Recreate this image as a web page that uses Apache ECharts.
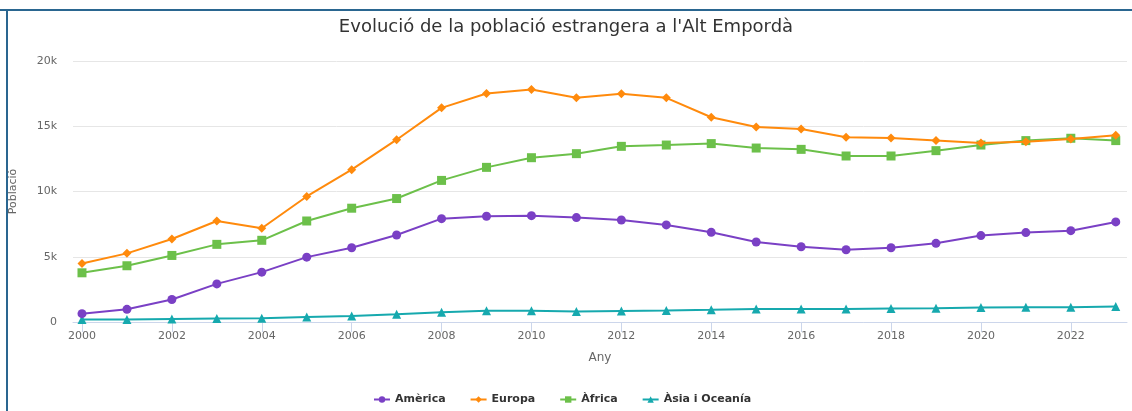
<!DOCTYPE html>
<html>
<head>
<meta charset="utf-8">
<script src="https://cdn.jsdelivr.net/npm/echarts@6/dist/echarts.min.js"></script>
<style>
  html, body { margin: 0; padding: 0; background: #fff; }
  #chart { width: 1132px; height: 411px; }
</style>
</head>
<body>
<div id="chart"></div>
<script>
const years = [2000, 2001, 2002, 2003, 2004, 2005, 2006, 2007, 2008, 2009, 2010, 2011,
               2012, 2013, 2014, 2015, 2016, 2017, 2018, 2019, 2020, 2021, 2022, 2023];
const tickYears = [2000, 2002, 2004, 2006, 2008, 2010, 2012, 2014, 2016, 2018, 2020, 2022];

const america = [640, 970, 1720, 2920, 3820, 4970, 5690, 6670, 7920, 8100, 8150, 8000,
                 7820, 7440, 6870, 6130, 5770, 5540, 5690, 6030, 6620, 6850, 7000, 7670];
const europa = [4490, 5260, 6360, 7740, 7180, 9620, 11670, 13970, 16410, 17510, 17820, 17180,
                17490, 17180, 15690, 14950, 14790, 14150, 14100, 13900, 13720, 13820, 14030, 14310];
const africa = [3770, 4310, 5100, 5950, 6260, 7740, 8720, 9460, 10850, 11850, 12590, 12900,
                13460, 13560, 13670, 13330, 13230, 12720, 12720, 13130, 13560, 13900, 14080, 13900];
const asia = [190, 200, 230, 260, 280, 380, 460, 590, 740, 870, 870, 800,
              850, 880, 930, 990, 990, 990, 1030, 1060, 1110, 1130, 1130, 1180];

const pairs = (vals) => years.map((y, i) => [y, vals[i]]);

const chart = echarts.init(document.getElementById('chart'), null, { renderer: 'canvas' });

const font = 'DejaVu Sans';

chart.setOption({
    backgroundColor: '#ffffff',
    animation: false,
    title: {
        text: "Evolució de la població estrangera a l'Alt Empordà",
        left: 'center',
        top: 13,
        textStyle: {
            color: '#333333',
            fontFamily: font,
            fontSize: 18,
            fontWeight: 'normal'
        }
    },
    legend: {
        left: 368,
        top: 389,
        itemWidth: 16,
        itemHeight: 8,
        itemGap: 24,
        textStyle: {
            color: '#333333',
            fontFamily: font,
            fontSize: 11,
            fontWeight: 'bold'
        },
        data: ['Amèrica', 'Europa', 'Àfrica', 'Àsia i Oceanía']
    },
    grid: {
        left: 68,
        right: 5,
        top: 61,
        bottom: 89,
        containLabel: false
    },
    xAxis: {
        type: 'value',
        min: 1999.8,
        max: 2023.25,
        name: 'Any',
        nameLocation: 'middle',
        nameGap: 30,
        nameTextStyle: {
            color: '#666666',
            fontFamily: font,
            fontSize: 12
        },
        axisLine: {
            lineStyle: { color: '#ccd6eb', width: 1 }
        },
        axisTick: {
            show: true,
            length: 10,
            customValues: tickYears,
            lineStyle: { color: '#ccd6eb' }
        },
        axisLabel: {
            customValues: tickYears,
            color: '#666666',
            fontFamily: font,
            fontSize: 11,
            margin: 9,
            formatter: (v) => String(v)
        },
        splitLine: { show: false }
    },
    yAxis: {
        type: 'value',
        min: 0,
        max: 20000,
        interval: 5000,
        name: 'Població',
        nameLocation: 'middle',
        nameGap: 54,
        nameRotate: 90,
        nameTextStyle: {
            color: '#666666',
            fontFamily: font,
            fontSize: 11
        },
        axisLine: { show: false },
        axisTick: { show: false },
        axisLabel: {
            color: '#666666',
            fontFamily: font,
            fontSize: 11,
            margin: 16,
            formatter: (v) => v === 0 ? '0' : (v / 1000) + 'k'
        },
        splitLine: {
            lineStyle: { color: '#e6e6e6', width: 1 }
        }
    },
    series: [
        {
            name: 'Amèrica',
            type: 'line',
            data: pairs(america),
            symbol: 'circle',
            symbolSize: 9,
            color: '#7a40c5',
            lineStyle: { width: 2 },
            z: 4
        },
        {
            name: 'Europa',
            type: 'line',
            data: pairs(europa),
            symbol: 'diamond',
            symbolSize: 9,
            color: '#ff8a0c',
            lineStyle: { width: 2 },
            z: 3
        },
        {
            name: 'Àfrica',
            type: 'line',
            data: pairs(africa),
            symbol: 'rect',
            symbolSize: 9,
            color: '#6cc04a',
            lineStyle: { width: 2 },
            z: 2
        },
        {
            name: 'Àsia i Oceanía',
            type: 'line',
            data: pairs(asia),
            symbol: 'triangle',
            symbolSize: 9,
            color: '#16a9ae',
            lineStyle: { width: 2 },
            z: 1
        }
    ],
    graphic: [
        {
            type: 'rect',
            shape: { x: 0, y: 9, width: 1132, height: 2 },
            style: { fill: '#2a6690' },
            silent: true
        },
        {
            type: 'rect',
            shape: { x: 6, y: 9, width: 2, height: 402 },
            style: { fill: '#2a6690' },
            silent: true
        }
    ]
});
</script>
</body>
</html>
